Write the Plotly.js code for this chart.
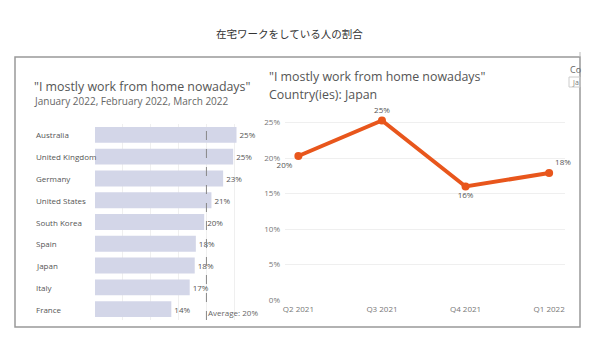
<!DOCTYPE html>
<html>
<head>
<meta charset="utf-8">
<script src="https://cdn.plot.ly/plotly-3.0.1.min.js"></script>
<style>html,body{margin:0;padding:0;background:#fff;}#chart{width:600px;height:350px;}</style>
</head>
<body>
<div id="chart"></div>
<script>
// ---- data ----
const countries = ["Australia","United Kingdom","Germany","United States","South Korea","Spain","Japan","Italy","France"];
const countryShare = [25.4, 24.8, 23.0, 20.9, 19.6, 18.1, 17.9, 17.0, 13.7];
const countryLabels = ["25%","25%","23%","21%","20%","18%","18%","17%","14%"];
const averageShare = 20;
const averageLabel = "Average: 20%";

const quarters = ["Q2 2021","Q3 2021","Q4 2021","Q1 2022"];
const japanShare = [20.3, 25.3, 16.0, 17.9];
const japanLabels = ["20%","25%","16%","18%"];
const yTickVals = [0,5,10,15,20,25];
const yTickText = ["0%","5%","10%","15%","20%","25%"];

const mainTitle = "在宅ワークをしている人の割合";
const leftTitle = "\"I mostly work from home nowadays\"";
const leftSub = "January 2022, February 2022, March 2022";
const rightTitle1 = "\"I mostly work from home nowadays\"";
const rightTitle2 = "Country(ies): Japan";

// ---- helpers ----
const W = 600, H = 350;
const px = x => x / W;
const py = y => 1 - y / H;
const FONT = "Open Sans, Lato, sans-serif";

const traces = [
  {
    type: "bar", orientation: "h",
    x: countryShare, y: countries,
    xaxis: "x", yaxis: "y",
    marker: {color: "#d3d6e8"},
    text: countryLabels, textposition: "outside", cliponaxis: false,
    textfont: {family: FONT, size: 8, color: "#555"},
    hoverinfo: "skip"
  },
  {
    type: "scatter", mode: "lines+markers+text",
    x: quarters, y: japanShare,
    xaxis: "x2", yaxis: "y2",
    line: {color: "#e8561c", width: 4},
    marker: {color: "#e8561c", size: 8},
    text: japanLabels,
    textposition: ["bottom left","top center","bottom center","top right"],
    textfont: {family: FONT, size: 8, color: "#555"},
    cliponaxis: false,
    hoverinfo: "skip"
  }
];

const annotations = [
  {text: mainTitle, xref: "paper", yref: "paper", x: px(289), y: py(33), xanchor: "center", yanchor: "middle", showarrow: false,
   font: {family: "Noto Sans CJK JP", size: 10.5, color: "#333"}},
  {text: leftTitle, xref: "paper", yref: "paper", x: px(32), y: py(86), xanchor: "left", yanchor: "middle", showarrow: false,
   font: {family: FONT, size: 12.4, color: "#555"}},
  {text: leftSub, xref: "paper", yref: "paper", x: px(32), y: py(101), xanchor: "left", yanchor: "middle", showarrow: false,
   font: {family: FONT, size: 10, color: "#666"}},
  {text: rightTitle1, xref: "paper", yref: "paper", x: px(267), y: py(77), xanchor: "left", yanchor: "middle", showarrow: false,
   font: {family: FONT, size: 12.4, color: "#555"}},
  {text: rightTitle2, xref: "paper", yref: "paper", x: px(267), y: py(94), xanchor: "left", yanchor: "middle", showarrow: false,
   font: {family: FONT, size: 12.4, color: "#555"}},
  {text: averageLabel, xref: "x", yref: "paper", x: averageShare, y: py(312), xanchor: "left", yanchor: "middle", showarrow: false,
   font: {family: FONT, size: 8, color: "#666"}},
  {text: "Co", xref: "paper", yref: "paper", x: px(568), y: py(69), xanchor: "left", yanchor: "middle", showarrow: false,
   font: {family: FONT, size: 9, color: "#666"}},
  {text: "Ja", xref: "paper", yref: "paper", x: px(570), y: py(82), xanchor: "left", yanchor: "middle", showarrow: false,
   font: {family: FONT, size: 7, color: "#777"}}
];
countries.forEach((c) => {
  annotations.push({text: c, xref: "paper", yref: "y", x: px(34), y: c, xanchor: "left", yanchor: "middle",
    showarrow: false, font: {family: FONT, size: 8, color: "#555"}});
});

const layout = {
  width: W, height: H,
  margin: {l: 0, r: 0, t: 0, b: 0},
  paper_bgcolor: "#fff", plot_bgcolor: "rgba(0,0,0,0)",
  showlegend: false,
  font: {family: FONT, color: "#666"},
  bargap: 0.27,
  xaxis: {domain: [px(95), px(251)], range: [0, 28], showticklabels: false, ticks: "",
    showgrid: true, gridcolor: "#efefef", gridwidth: 1, dtick: 5, zeroline: false, showline: false, fixedrange: true},
  yaxis: {domain: [py(320), py(124)], type: "category", autorange: "reversed", showticklabels: false, ticks: "",
    showgrid: false, zeroline: false, showline: false, fixedrange: true},
  xaxis2: {domain: [px(285), px(565)], type: "category", range: [-0.16, 3.19], anchor: "y2",
    showgrid: false, zeroline: false, showline: false, ticks: "", ticklabelstandoff: 3,
    tickfont: {family: FONT, size: 8, color: "#777"}, fixedrange: true},
  yaxis2: {domain: [py(300), py(112)], range: [0, 26.5], anchor: "x2",
    tickvals: yTickVals, ticktext: yTickText, showgrid: true, gridcolor: "#efefef",
    zeroline: false, showline: false, ticks: "", ticklabelstandoff: 4,
    tickfont: {family: FONT, size: 8, color: "#777"}, fixedrange: true},
  shapes: [
    {type: "rect", xref: "paper", yref: "paper", x0: px(15), x1: px(580), y0: py(327), y1: py(57),
     line: {color: "#999", width: 1.5}, fillcolor: "rgba(0,0,0,0)"},
    {type: "line", xref: "paper", yref: "paper", x0: px(580), x1: px(580), y0: py(57), y1: py(52),
     line: {color: "#bbb", width: 1}},
    {type: "rect", xref: "paper", yref: "paper", x0: px(569), x1: px(580), y0: py(87), y1: py(77),
     line: {color: "#ccc", width: 1}, fillcolor: "rgba(0,0,0,0)"},
    {type: "line", xref: "x", yref: "paper", x0: averageShare, x1: averageShare, y0: py(320), y1: py(124),
     line: {color: "#888", width: 1, dash: "dash"}}
  ],
  annotations: annotations
};

Plotly.newPlot("chart", traces, layout, {staticPlot: true, displayModeBar: false});
</script>
</body>
</html>
